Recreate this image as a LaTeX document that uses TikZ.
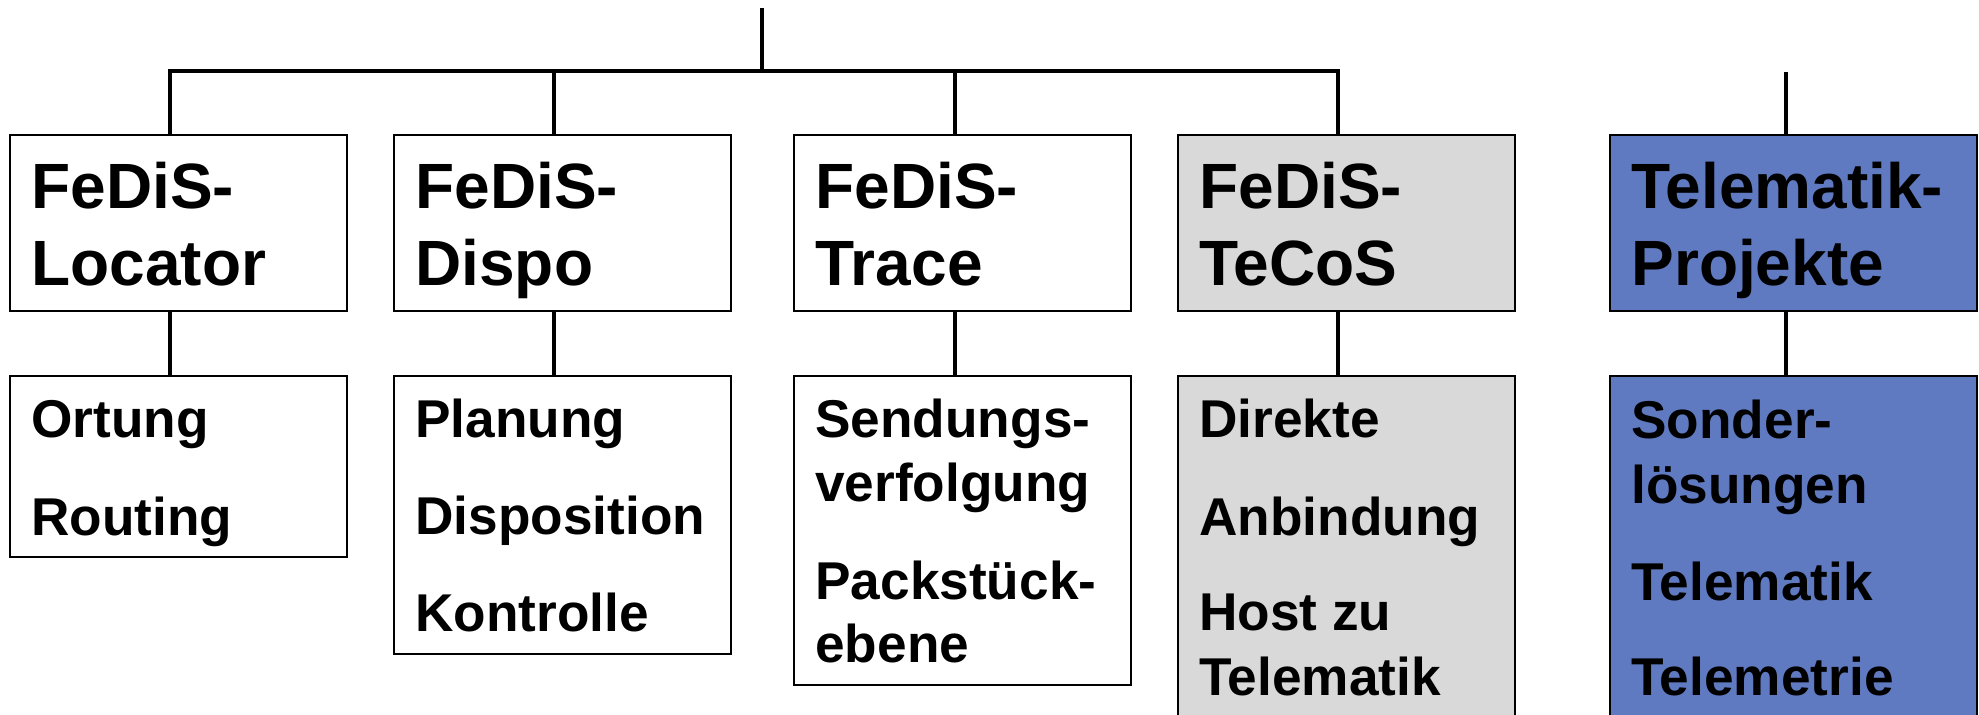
\documentclass[tikz,border=0pt]{standalone}
\usepackage{fontspec}
\setmainfont{Liberation Sans}
\definecolor{boxgray}{RGB}{217,217,217}
\definecolor{boxblue}{RGB}{95,122,193}
\begin{document}
\begin{tikzpicture}[x=0.5pt,y=-0.5pt,
  box/.style={draw=black, line width=1pt, anchor=north west, inner sep=0pt, outer sep=0pt, fill=white},
  wide/.style={minimum width=168.5pt},
  conn/.style={line width=2.2pt, line join=miter},
  head/.style={anchor=base west, inner sep=0pt, font=\fontsize{32}{38}\selectfont\bfseries},
  item/.style={anchor=base west, inner sep=0pt, font=\fontsize{26.6}{32}\selectfont\bfseries}]
\clip (0,0) rectangle (1979,715);
\fill[white] (0,0) rectangle (1979,715);

% first-level boxes
\node[box, wide, minimum height=88pt] (b1) at (10,135) {};
\node[box, wide, minimum height=88pt] (b2) at (394,135) {};
\node[box, wide, minimum height=88pt] (b3) at (794,135) {};
\node[box, wide, minimum height=88pt, fill=boxgray] (b4) at (1178,135) {};
\node[box, minimum width=183.5pt, minimum height=88pt, fill=boxblue] (b5) at (1610,135) {};

% second-level boxes
\node[box, wide, minimum height=90.5pt] (s1) at (10,376) {};
\node[box, wide, minimum height=139pt] (s2) at (394,376) {};
\node[box, wide, minimum height=154.5pt] (s3) at (794,376) {};
\node[box, wide, minimum height=200pt, fill=boxgray] (s4) at (1178,376) {};
\node[box, minimum width=183.5pt, minimum height=200pt, fill=boxblue] (s5) at (1610,376) {};

% connectors
\coordinate (top) at (762,8);
\coordinate (k1) at (170,71);
\coordinate (k2) at (554,71);
\coordinate (k3) at (955,71);
\coordinate (k4) at (1338,71);
\coordinate (k5) at (1786,72);
\draw[conn] (top) -- (top |- k1);
\draw[conn] (b1.north -| k1) -- (k1) -- (k4) -- (b4.north -| k4);
\draw[conn] (k2) -- (b2.north -| k2);
\draw[conn] (k3) -- (b3.north -| k3);
\draw[conn] (k5) -- (b5.north -| k5);
\draw[conn] (b1.south -| k1) -- (s1.north -| k1);
\draw[conn] (b2.south -| k2) -- (s2.north -| k2);
\draw[conn] (b3.south -| k3) -- (s3.north -| k3);
\draw[conn] (b4.south -| k4) -- (s4.north -| k4);
\draw[conn] (b5.south -| k5) -- (s5.north -| k5);

% first-level texts
\node[head] (h1a) at (31,209) {FeDiS-};
\node[head] (h1b) at (31,286) {Locator};
\node[head] (h2a) at (415,209) {FeDiS-};
\node[head] (h2b) at (415,286) {Dispo};
\node[head] (h3a) at (815,209) {FeDiS-};
\node[head] (h3b) at (815,286) {Trace};
\node[head] (h4a) at (1199,209) {FeDiS-};
\node[head] (h4b) at (1199,286) {TeCoS};
\node[head] (h5a) at (1631,209) {Telematik-};
\node[head] (h5b) at (1631,286) {Projekte};

% second-level texts
\node[item] (i1a) at (31,438) {Ortung};
\node[item] (i1b) at (31,535) {Routing};

\node[item] (i2a) at (415,438) {Planung};
\node[item] (i2b) at (415,534) {Disposition};
\node[item] (i2c) at (415,631) {Kontrolle};

\node[item] (i3a) at (815,438) {Sendungs-};
\node[item] (i3b) at (815,502) {verfolgung};
\node[item] (i3c) at (815,599) {Packstück-};
\node[item] (i3d) at (815,662) {ebene};

\node[item] (i4a) at (1199,438) {Direkte};
\node[item] (i4b) at (1199,535) {Anbindung};
\node[item] (i4c) at (1199,630) {Host zu};
\node[item] (i4d) at (1199,695) {Telematik};

\node[item] (i5a) at (1631,439) {Sonder-};
\node[item] (i5b) at (1631,503) {lösungen};
\node[item] (i5c) at (1631,600) {Telematik};
\node[item] (i5d) at (1631,695) {Telemetrie};
\end{tikzpicture}
\end{document}
